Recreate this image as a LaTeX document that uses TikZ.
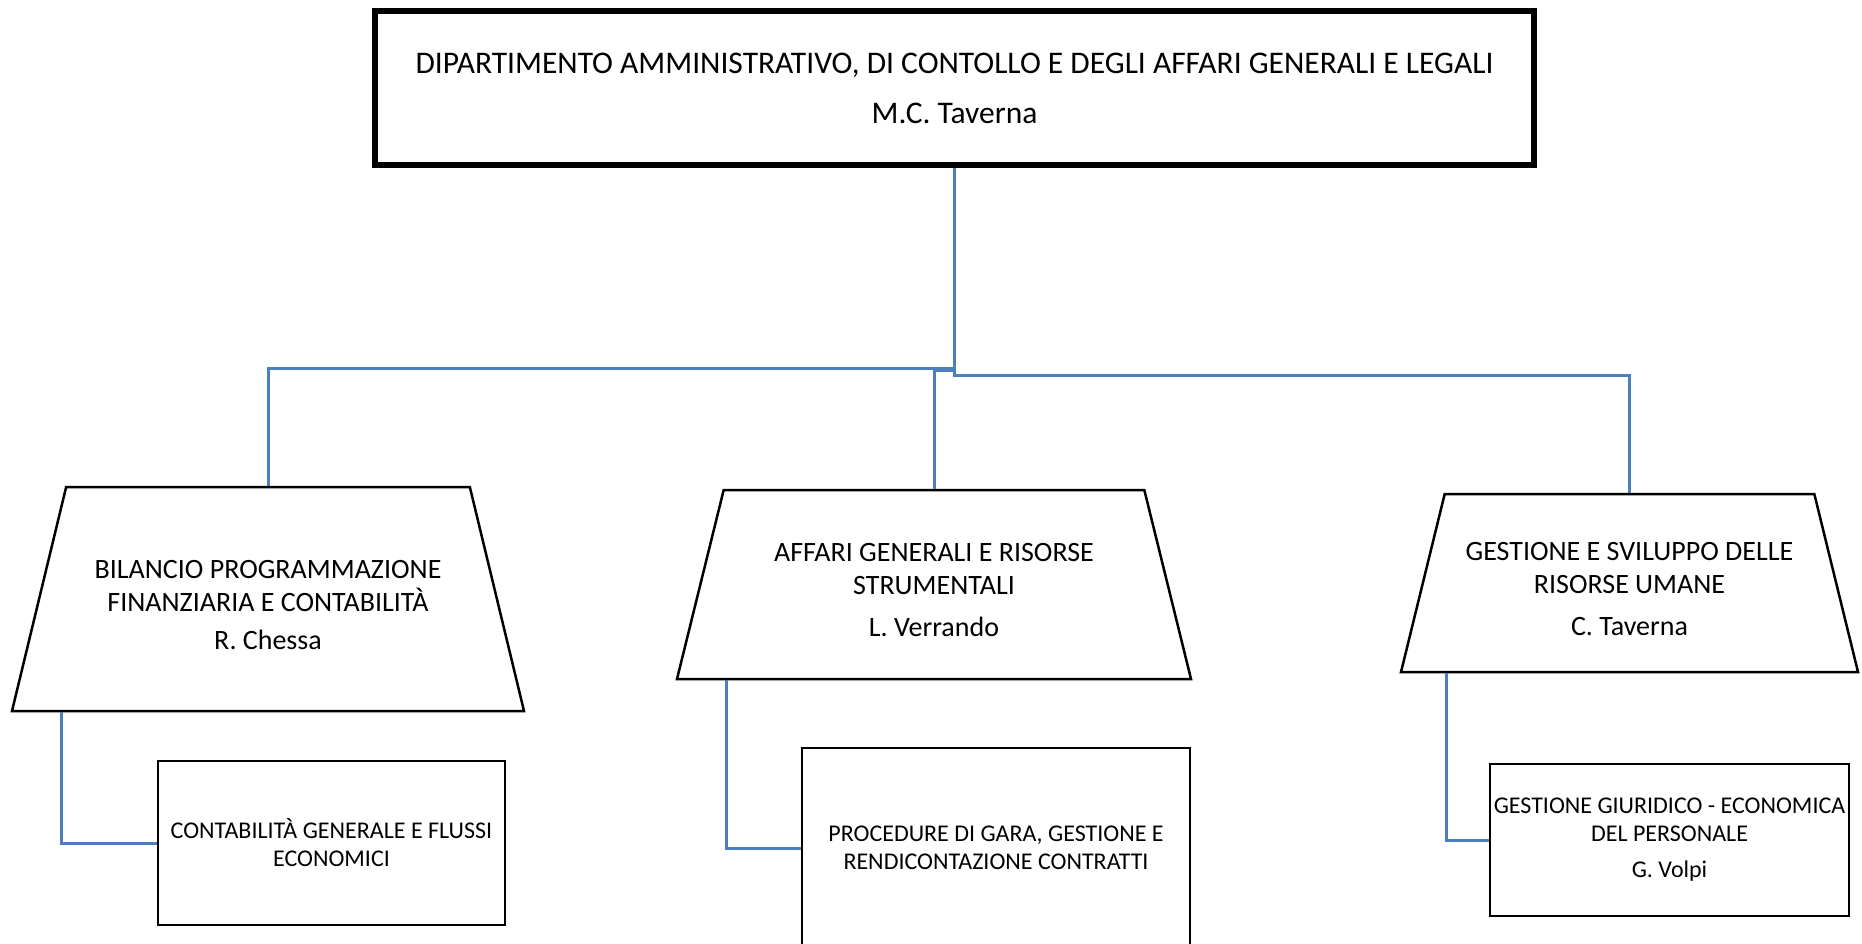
\documentclass[tikz,border=0pt]{standalone}
\usepackage{fontspec}
\setmainfont{Carlito}
\usetikzlibrary{shapes.geometric,calc}
\definecolor{linkblue}{RGB}{76,128,189}
\newcommand{\topgap}{\rule{0pt}{30pt}}
\begin{document}
\begin{tikzpicture}[x=1pt,y=-1pt,
 uff/.style={draw,line width=2.5pt,trapezium,trapezium angle=76,trapezium stretches body,inner xsep=0pt,align=center,font=\fontsize{28}{33}\selectfont},
 sett/.style={draw,line width=2.5pt,rectangle,inner sep=0pt,align=center,font=\fontsize{24}{28}\selectfont},
 link/.style={linkblue,line width=3pt}]
 \useasboundingbox (0,0) rectangle (1862,943);
 \node[draw,line width=6pt,minimum width=1159pt,minimum height=154pt,align=center,font=\fontsize{31.5}{38}\selectfont] (dip) at (954.5,88) {DIPARTIMENTO AMMINISTRATIVO, DI CONTOLLO E DEGLI AFFARI GENERALI E LEGALI\\[12pt] M.C. Taverna};
 \node[uff,inner ysep=58pt,minimum width=512pt,minimum height=224pt] (bil) at (268,599) {\topgap BILANCIO PROGRAMMAZIONE\\FINANZIARIA E CONTABILITÀ\\[5pt] R. Chessa};
 \node[uff,inner ysep=41pt,minimum width=514pt,minimum height=189pt] (aff) at (934,584.5) {\topgap AFFARI GENERALI E RISORSE\\STRUMENTALI\\[9pt] L. Verrando};
 \node[uff,inner ysep=35pt,minimum width=457pt,minimum height=178pt] (ges) at (1629.5,583) {\topgap GESTIONE E SVILUPPO DELLE\\RISORSE UMANE\\[9pt] C. Taverna};
 \node[sett,minimum width=347pt,minimum height=164pt] (cont) at (331.5,843) {CONTABILITÀ GENERALE E FLUSSI\\ECONOMICI};
 \node[sett,minimum width=388pt,minimum height=200pt] (gara) at (996,848) {PROCEDURE DI GARA, GESTIONE E\\RENDICONTAZIONE CONTRATTI};
 \node[sett,minimum width=359pt,minimum height=152pt] (pers) at (1669.5,840) {GESTIONE GIURIDICO - ECONOMICA\\DEL PERSONALE\\[8pt] G. Volpi};
 \draw[link] (dip.south) -- ++(0,200) -| (bil.north);
 \draw[link] (dip.south) -- ++(0,202) -| (aff.north);
 \draw[link] (dip.south) -- ++(0,207) -| (ges.north);
 \draw[link] ($(bil.bottom left corner)+(51,0)$) |- (cont.west);
 \draw[link] ($(aff.bottom left corner)+(51,0)$) |- (gara.west);
 \draw[link] ($(ges.bottom left corner)+(47,0)$) |- (pers.west);
\end{tikzpicture}
\end{document}
